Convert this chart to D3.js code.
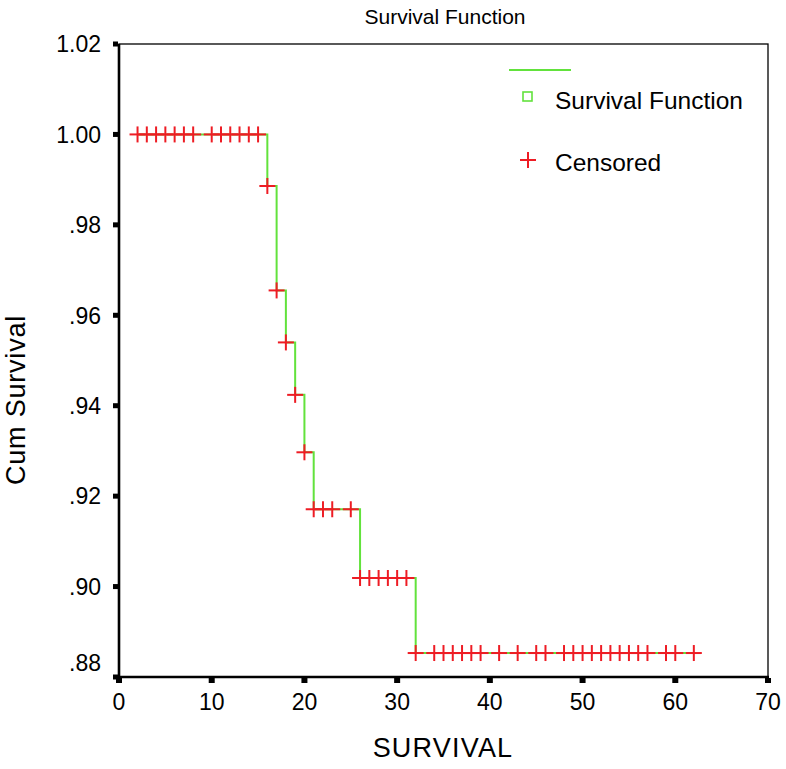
<!DOCTYPE html>
<html><head><meta charset="utf-8">
<script src="https://cdn.jsdelivr.net/npm/d3@7"></script>
<style>html,body{margin:0;padding:0;background:#fff;}svg{display:block;font-family:"Liberation Sans",Arial,sans-serif;}</style>
</head><body>
<svg id="chart" width="786" height="769"></svg>
<script>
// ---- data ----
const eventTimes = [16, 17, 18, 19, 20, 21, 26, 32];
const survivalAfter = [0.9886, 0.9655, 0.9540, 0.9424, 0.9297, 0.9171, 0.9019, 0.8853];
const startTime = 2;
const endTime = 62;
const censorTimes = [2,3,4,5,6,7,8,10,11,12,13,14,15,
  16,17,18,19,20,
  21,22,23,25,
  26,27,28,29,30,31,
  32,34,35,36,37,38,39,41,43,45,46,48,49,50,51,52,53,54,55,56,57,59,60,62];
const xTicks = [0,10,20,30,40,50,60,70];
const yTicks = [0.88,0.90,0.92,0.94,0.96,0.98,1.00,1.02];
const yTickLabels = [".88",".90",".92",".94",".96",".98","1.00","1.02"];

const GREEN = "#62e23c", RED = "#ee1c24";
const svg = d3.select("#chart");
const x = d3.scaleLinear().domain([0,70]).range([119,768]);
const y = d3.scaleLinear().domain([0.88,1.02]).range([677,44]);

function S(t){ let s = 1; eventTimes.forEach((e,i)=>{ if (e <= t) s = survivalAfter[i]; }); return s; }

// frame
svg.append("rect").attr("x",x(0)).attr("y",y(1.02)).attr("width",x(70)-x(0)).attr("height",y(0.88)-y(1.02))
  .attr("fill","none").attr("stroke","#000").attr("stroke-width",1.3);
svg.append("line").attr("x1",x(0)).attr("x2",x(0)).attr("y1",y(1.02)).attr("y2",y(0.88)+1).attr("stroke","#000").attr("stroke-width",2.6);
svg.append("line").attr("x1",x(0)-1).attr("x2",x(70)+1).attr("y1",y(0.88)).attr("y2",y(0.88)).attr("stroke","#000").attr("stroke-width",2.6);

// y ticks
svg.append("g").selectAll("rect").data(yTicks).join("rect")
  .attr("x",x(0)-6).attr("y",d=>y(d)-2.5).attr("width",5).attr("height",5).attr("fill","#000");
svg.append("g").selectAll("text").data(yTicks).join("text")
  .attr("x",101).attr("y",(d,i)=>y(d) + (i===0 ? -14 : 0)).attr("dy","0.36em")
  .attr("text-anchor","end").attr("font-size",23).text((d,i)=>yTickLabels[i]);
// x ticks
svg.append("g").selectAll("rect").data(xTicks).join("rect")
  .attr("x",d=>x(d)-3).attr("y",y(0.88)+1).attr("width",6).attr("height",5).attr("fill","#000");
svg.append("g").selectAll("text").data(xTicks).join("text")
  .attr("x",d=>x(d)).attr("y",710).attr("text-anchor","middle").attr("font-size",23).text(d=>d);

// titles
svg.append("text").attr("x",445).attr("y",24).attr("text-anchor","middle").attr("font-size",21).text("Survival Function");
svg.append("text").attr("x",443).attr("y",757).attr("text-anchor","middle").attr("font-size",27).attr("letter-spacing",1.2).text("SURVIVAL");
svg.append("text").attr("transform","translate(25,400) rotate(-90)").attr("text-anchor","middle").attr("font-size",27).attr("letter-spacing",0.8).text("Cum Survival");

// step line
const pts = [[startTime,1]];
eventTimes.forEach((e,i)=>{ pts.push([e, i===0?1:survivalAfter[i-1]]); pts.push([e, survivalAfter[i]]); });
pts.push([endTime, survivalAfter[survivalAfter.length-1]]);
svg.append("path").attr("d", d3.line().x(d=>x(d[0])).y(d=>y(d[1]))(pts))
  .attr("fill","none").attr("stroke",GREEN).attr("stroke-width",2);

// censored marks
const cm = svg.append("g").attr("stroke",RED).attr("stroke-width",2);
censorTimes.forEach(t=>{
  const cx = x(t), cy = y(S(t));
  cm.append("line").attr("x1",cx-8).attr("x2",cx+8).attr("y1",cy).attr("y2",cy);
  cm.append("line").attr("x1",cx).attr("x2",cx).attr("y1",cy-8).attr("y2",cy+8);
});

// legend
svg.append("line").attr("x1",509).attr("x2",571).attr("y1",70).attr("y2",70).attr("stroke",GREEN).attr("stroke-width",2);
svg.append("rect").attr("x",523).attr("y",92).attr("width",9).attr("height",9).attr("fill","none").attr("stroke",GREEN).attr("stroke-width",1.6);
svg.append("text").attr("x",555).attr("y",109).attr("font-size",24.5).text("Survival Function");
svg.append("line").attr("x1",520).attr("x2",536).attr("y1",160).attr("y2",160).attr("stroke",RED).attr("stroke-width",2);
svg.append("line").attr("x1",528).attr("x2",528).attr("y1",152).attr("y2",168).attr("stroke",RED).attr("stroke-width",2);
svg.append("text").attr("x",555).attr("y",171).attr("font-size",24.5).text("Censored");
</script>
</body></html>
